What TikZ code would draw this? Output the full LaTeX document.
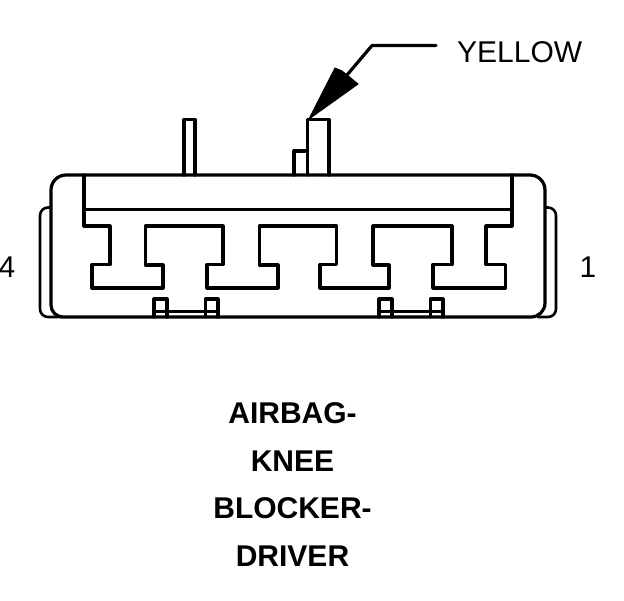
\documentclass[tikz,border=0pt]{standalone}
\usepackage{fontspec}
\setmainfont{Liberation Sans}
\tikzset{
  outline/.style={draw=black,line width=3.2pt,line join=round,line cap=round},
  thin outline/.style={draw=black,line width=2.6pt,line join=round,line cap=round},
  calltext/.style={font=\fontsize{30}{32}\selectfont,inner sep=0pt,anchor=base west},
  pintext/.style={font=\fontsize{30}{32}\selectfont,inner sep=0pt,anchor=base},
  titletext/.style={font=\fontsize{30}{34}\selectfont\bfseries,inner sep=0pt,anchor=base}
}
\begin{document}
\begin{tikzpicture}[x=1pt,y=-1pt]
\useasboundingbox (0,0) rectangle (624,600);
% side shells
\draw[thin outline,rounded corners=8pt] (49,207.5) -- (40,207.5) -- (40,317) -- (62,317);
\draw[thin outline,rounded corners=8pt] (546,207.5) -- (556,207.5) -- (556,317) -- (538,317);
% pins
\draw[outline] (184,175) -- (184,119.5) -- (195,119.5) -- (195,175);
\draw[outline] (307.5,175) -- (307.5,119.5) -- (329,119.5) -- (329,175);
\draw[outline] (294,175) -- (294,151) -- (307.5,151);
% body
\draw[outline,rounded corners=15pt] (51,250) -- (51,175) -- (545,175) [rounded corners=14pt] -- (545,317) [rounded corners=12pt] -- (51,317) -- cycle;
% inner
\draw[outline] (84,175) -- (84,226) -- (110,226) -- (110,264.5) -- (92,264.5) -- (92,288) -- (163,288) -- (163,265) -- (145.5,265) -- (145.5,226) -- (223,226) -- (223,264.5) -- (207,264.5) -- (207,288) -- (278,288) -- (278,265) -- (259.5,265) -- (259.5,226) -- (336.5,226) -- (336.5,264.5) -- (320,264.5) -- (320,288) -- (389,288) -- (389,265) -- (373,265) -- (373,226) -- (452,226) -- (452,264.5) -- (433,264.5) -- (433,288) -- (505.5,288) -- (505.5,264.5) -- (486,264.5) -- (486,226) -- (512,226) -- (512,175);
\draw[outline] (84,209.5) -- (512,209.5);
% tabs
\draw[outline] (154,317) -- (154,299) -- (167,299) -- (167,317);
\draw[outline] (205.5,317) -- (205.5,299) -- (218,299) -- (218,317);
\draw[outline] (379,317) -- (379,299) -- (392,299) -- (392,317);
\draw[outline] (430.5,317) -- (430.5,299) -- (443,299) -- (443,317);
\draw[thin outline] (154,311.5) -- (218,311.5);
\draw[thin outline] (379,311.5) -- (443,311.5);
% labels
\node[calltext] (yellow) at (457,62) {YELLOW};
\node[pintext] (pinfour) at (7,277) {4};
\node[pintext] (pinone) at (588,277) {1};
\node[titletext] (t1) at (292.5,423) {AIRBAG-};
\node[titletext] (t2) at (292.5,471) {KNEE};
\node[titletext] (t3) at (292.5,518) {BLOCKER-};
\node[titletext] (t4) at (292.5,566) {DRIVER};
% leader
\coordinate (leaderend) at (436,45.5);
\coordinate (elbow) at (372,45.5);
\coordinate (tip) at (309,119);
\draw[outline] (leaderend) -- (elbow) -- (347,75);
\fill[black,draw=black,line width=1pt,line join=round] (tip) -- (335,68) -- (342,71) -- (358,84) -- cycle;
\end{tikzpicture}
\end{document}
